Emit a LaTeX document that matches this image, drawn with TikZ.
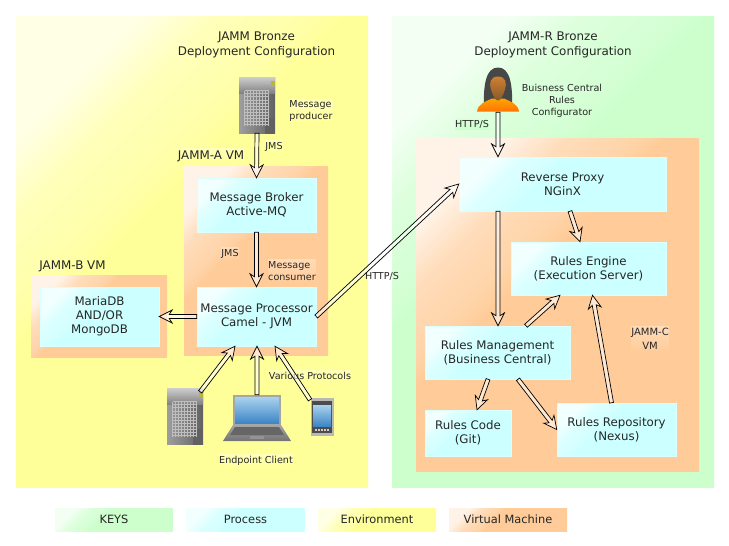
\documentclass[tikz,border=0pt]{standalone}
\usepackage{fontspec}
\setmainfont{DejaVu Sans}
\usetikzlibrary{calc}
\definecolor{envyellow}{HTML}{FFFF99}
\definecolor{envgreen}{HTML}{CCFFCC}
\definecolor{proccyan}{HTML}{CCFFFF}
\definecolor{vmorange}{HTML}{FFCC99}
\definecolor{screenhi}{HTML}{A9D2EE}
\definecolor{screenlo}{HTML}{3E86C6}
\newcommand{\declglow}[2]{\pgfdeclareverticalshading{#1}{100bp}{color(0bp)=(#2); color(57bp)=(#2); color(60bp)=(#2!85!white); color(68bp)=(#2!68!white); color(75bp)=(#2!25!white); color(100bp)=(#2!25!white)}}
\declglow{glowyellow}{envyellow}
\declglow{glowgreen}{envgreen}
\declglow{glowcyan}{proccyan}
\declglow{gloworange}{vmorange}
\tikzset{
  panel/.style={shading angle=45, anchor=center, inner sep=0pt},
  proc/.style={panel, shading=glowcyan, draw=proccyan!70!white, line width=.5pt, align=center, font=\fontsize{11.8}{14}\selectfont, text=black!85},
  vmbox/.style={panel, shading=gloworange},
  keybox/.style={panel, minimum height=23pt, minimum width=118pt, font=\fontsize{11.4}{14}\selectfont, text=black!85},
  head/.style={align=center, font=\fontsize{11.9}{15}\selectfont, text=black!85, inner sep=0pt},
  tag/.style={align=center, font=\fontsize{9.6}{12}\selectfont, text=black!85, inner sep=0pt},
  halo/.style={top color=#1!70!white, bottom color=#1, inner ysep=1.5pt},
  flow/.style={draw=black, fill=white, fill opacity=.55, line width=.7pt, miter limit=10,
    to path={
      -- ($(\tikztostart)!2pt!90:(\tikztotarget)$)
      -- ($(\tikztotarget)!10.2pt!-11.3:(\tikztostart)$)
      -- ($(\tikztotarget)!14.5pt!-26.6:(\tikztostart)$)
      -- (\tikztotarget)
      -- ($(\tikztotarget)!14.5pt!26.6:(\tikztostart)$)
      -- ($(\tikztotarget)!10.2pt!11.3:(\tikztostart)$)
      -- ($(\tikztostart)!2pt!-90:(\tikztotarget)$)
      -- cycle}},
  spot/.style={inner sep=0pt, minimum width=#1},
  servericon/.pic={
    \shade[left color=black!38, right color=black!62] (-18,-28) rectangle (18,28);
    \shade[top color=black!20, bottom color=black!50] (-18,-28) rectangle (18,-12);
    \fill[black!62] (8,12) rectangle (18,28);
    \fill[yellow!70!black] (14,-25) rectangle (18,-20);
    \foreach \i in {0,...,8}
      \draw[white!75!black, line width=.5pt] (-12.5+\i*3,-15) -- (-12.5+\i*3,20);
    \foreach \j in {0,...,11}
      \draw[white!75!black, line width=.5pt] (-12.5,-15+\j*3.1) -- (11.5,-15+\j*3.1);
  },
  laptopicon/.pic={
    \fill[black!35] (-24,-23) rectangle (24,7);
    \shade[top color=screenhi, bottom color=screenlo] (-22,-21) rectangle (22,5);
    \shade[top color=black!35, bottom color=black!55] (-24,7) -- (24,7) -- (34,23) -- (-34,23) -- cycle;
    \fill[black!60] (-22,9) -- (22,9) -- (27,17) -- (-27,17) -- cycle;
    \fill[black!42] (-7,18) rectangle (7,21);
  },
  phoneicon/.pic={
    \fill[black!28] (-11.5,-19) rectangle (11.5,19);
    \fill[black!70] (-10,-16) rectangle (10,16);
    \shade[top color=screenhi, bottom color=screenlo] (-9,-12) rectangle (9,9);
    \foreach \i in {-6,-3,0,3,6}
      \fill[black!20] (\i-.8,11.5) rectangle (\i+.8,13.5);
  },
  personicon/.pic={
    \fill[black!72] (-14,20) .. controls (-15,-5) and (-12,-22) .. (0,-22) .. controls (12,-22) and (15,-5) .. (14,20) -- cycle;
    \shade[top color=orange!70!yellow, bottom color=orange!90!red] (-21,22) .. controls (-20,14) and (-12,12) .. (-6,9) -- (6,9) .. controls (12,12) and (20,14) .. (21,22) -- cycle;
    \shade[top color=brown!75!orange, bottom color=brown!70!black] (0,-13) .. controls (-8,-13) and (-9,-6) .. (-7,0) .. controls (-5,6) and (-3,11) .. (0,11) .. controls (3,11) and (5,6) .. (7,0) .. controls (9,-6) and (8,-13) .. (0,-13) -- cycle;
  },
}
\begin{document}
\begin{tikzpicture}[x=1pt,y=-1pt]
\useasboundingbox (0,0) rectangle (729,546);

% environments
\node[panel, shading=glowyellow, minimum width=352pt, minimum height=471pt] (jammbronze) at (192,251.5) {};
\node[panel, shading=glowgreen, minimum width=322pt, minimum height=471pt] (jammrbronze) at (553,251.5) {};
\node[head] (titlea) at (256.5,44.5) {JAMM Bronze\\Deployment Configuration};
\node[head] (titleb) at (553,44.5) {JAMM-R Bronze\\Deployment Configuration};

% virtual machines
\node[vmbox, minimum width=144pt, minimum height=189pt] (vma) at (256,260.5) {};
\node[vmbox, minimum width=136pt, minimum height=82pt] (vmb) at (99,316) {};
\node[vmbox, minimum width=283pt, minimum height=333pt] (vmc) at (557.5,304.5) {};
\node[head, halo=envyellow] (vmalabel) at (211,156) {JAMM-A VM};
\node[head] (vmblabel) at (72.5,266) {JAMM-B VM};
\node[tag, halo=vmorange, font=\fontsize{10}{14}\selectfont] (vmclabel) at (650,339) {JAMM-C\\VM};

% processes
\node[proc, minimum width=119pt, minimum height=54pt] (broker) at (256.5,205) {Message Broker\\Active-MQ};
\node[proc, minimum width=119pt, minimum height=59pt] (processor) at (256.5,316.5) {Message Processor\\Camel - JVM};
\node[proc, minimum width=119pt, minimum height=59pt] (mariadb) at (99.5,316.5) {MariaDB\\AND/OR\\MongoDB};
\node[proc, minimum width=207pt, minimum height=54pt] (proxy) at (562.5,184) {Reverse Proxy\\NGinX};
\node[proc, minimum width=155pt, minimum height=53pt] (engine) at (588.5,268.5) {Rules Engine\\(Execution Server)};
\node[proc, minimum width=145pt, minimum height=53pt] (management) at (497.5,352.5) {Rules Management\\(Business Central)};
\node[proc, minimum width=86pt, minimum height=46pt] (code) at (468,433) {Rules Code\\(Git)};
\node[proc, minimum width=119pt, minimum height=53pt] (repository) at (616.5,429.5) {Rules Repository\\(Nexus)};

% icons
\node[spot=36pt, minimum height=55pt] (producer) at (257,105.5) {};
\pic at (producer) {servericon};
\node[spot=36pt, minimum height=57pt] (serverclient) at (185,416.5) {};
\pic at (serverclient) {servericon};
\node[spot=68pt, minimum height=46pt] (laptop) at (257,418) {};
\pic at (laptop) {laptopicon};
\node[spot=22pt, minimum height=38pt] (phone) at (322,417) {};
\pic at (phone) {phoneicon};
\node[spot=42pt, minimum height=45pt] (configurator) at (498,89.5) {};
\pic at (configurator) {personicon};

% labels
\node[tag, halo=envyellow, align=left] (producerlabel) at (311,111) {Message\\producer};
\node[tag, halo=envyellow] (jmsa) at (274,147) {JMS};
\node[tag, halo=vmorange] (jmsb) at (230,254) {JMS};
\node[tag, halo=vmorange, align=left] (consumerlabel) at (292,271) {Message\\consumer};
\node[tag] (httpa) at (382,276) {HTTP/S};
\node[tag, halo=envgreen] (httpb) at (472,124) {HTTP/S};
\node[tag, halo=envyellow] (protocols) at (310,376) {Various Protocols};
\node[tag, halo=envyellow] (clientlabel) at (256,461) {Endpoint Client};
\node[tag] (configlabel) at (562,101) {Buisness Central\\Rules\\Configurator};

% connectors
\draw[flow] (producer.south) to (broker.north);
\draw[flow] (broker.south) to (processor.north);
\draw[flow] (processor.west) to (mariadb.east);
\draw[flow] (processor.east) to (proxy.west);
\draw[flow] ([xshift=-3pt,yshift=-4pt]serverclient.north east) to ([xshift=-21.5pt]processor.south);
\draw[flow] (laptop.north) to (laptop|-processor.south);
\draw[flow] ([xshift=-12pt,yshift=-2pt]phone.north) to ([xshift=18.5pt]processor.south);
\draw[flow] (configurator.south) to (configurator|-proxy.north);
\draw[flow] (configurator|-proxy.south) to (configurator|-management.north);
\draw[flow] ([xshift=7.5pt]proxy.south) to ([xshift=-8.5pt]engine.north);
\draw[flow] ([xshift=28.5pt]management.north) to ([xshift=-28.5pt]engine.south);
\draw[flow] ([xshift=-5pt]repository.north) to ([xshift=4pt]engine.south);
\draw[flow] ([xshift=-9.5pt]management.south) to ([xshift=9pt]code.north);
\draw[flow] ([xshift=20.5pt]management.south) to (repository.west);

% keys
\node[keybox, shading=glowgreen] (keykeys) at (114,519.5) {KEYS};
\node[keybox, shading=glowcyan] (keyprocess) at (245.5,519.5) {Process};
\node[keybox, shading=glowyellow] (keyenv) at (377,519.5) {Environment};
\node[keybox, shading=gloworange] (keyvm) at (508,519.5) {Virtual Machine};
\end{tikzpicture}
\end{document}
